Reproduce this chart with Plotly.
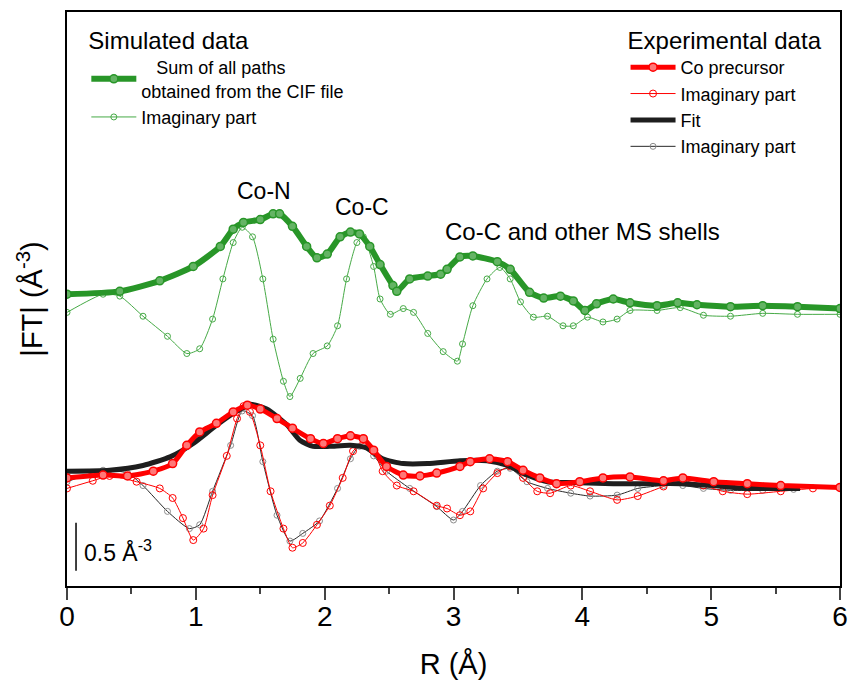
import plotly.graph_objects as go

# ---------------- data (R in Å, |FT| in Å^-3, offset stacked) ----------------
R_sim = [0.00, 0.41, 0.72, 0.98, 1.19, 1.29, 1.37, 1.50, 1.60, 1.65, 1.75, 1.86, 1.94, 2.02,
         2.12, 2.20, 2.27, 2.35, 2.43, 2.53, 2.56, 2.66, 2.80, 2.90, 2.95, 3.05, 3.15, 3.34,
         3.44, 3.59, 3.70, 3.83, 3.93, 4.02, 4.11, 4.24, 4.37, 4.58, 4.74, 4.89, 5.15, 5.40,
         5.67, 6.00]
sim_mag = [3.05, 3.08, 3.19, 3.34, 3.55, 3.73, 3.80, 3.83, 3.89, 3.89, 3.76, 3.55, 3.43, 3.47,
           3.65, 3.70, 3.68, 3.55, 3.36, 3.14, 3.08, 3.21, 3.24, 3.26, 3.31, 3.44, 3.45, 3.39,
           3.31, 3.07, 3.01, 3.03, 2.98, 2.88, 2.95, 3.00, 2.96, 2.93, 2.96, 2.94, 2.92, 2.93,
           2.92, 2.90]

R_sim_im = [0.00, 0.28, 0.41, 0.59, 0.78, 0.93, 1.03, 1.13, 1.21, 1.29, 1.36, 1.44, 1.52, 1.60,
            1.68, 1.73, 1.81, 1.91, 2.02, 2.10, 2.17, 2.25, 2.30, 2.38, 2.43, 2.51, 2.61, 2.69,
            2.80, 2.92, 3.03, 3.07, 3.15, 3.26, 3.36, 3.44, 3.52, 3.62, 3.73, 3.85, 3.93, 4.04,
            4.16, 4.27, 4.37, 4.58, 4.76, 4.94, 5.15, 5.40, 5.67, 6.00]
sim_im = [2.86, 3.05, 3.03, 2.82, 2.61, 2.43, 2.48, 2.79, 3.21, 3.59, 3.75, 3.65, 3.21, 2.58,
          2.14, 1.98, 2.17, 2.43, 2.51, 2.72, 3.21, 3.59, 3.65, 3.34, 3.00, 2.84, 2.90, 2.86,
          2.64, 2.45, 2.35, 2.53, 2.93, 3.21, 3.33, 3.21, 2.97, 2.81, 2.82, 2.72, 2.72, 2.81,
          2.76, 2.79, 2.88, 2.88, 2.91, 2.83, 2.82, 2.85, 2.84, 2.84]

R_exp = [0.00, 0.28, 0.47, 0.67, 0.82, 0.93, 1.03, 1.16, 1.29, 1.40, 1.50, 1.63, 1.75, 1.89,
         1.99, 2.10, 2.20, 2.30, 2.38, 2.48, 2.61, 2.74, 2.87, 3.05, 3.13, 3.28, 3.42, 3.54,
         3.67, 3.80, 3.98, 4.16, 4.37, 4.63, 4.78, 5.02, 5.28, 5.54, 6.00]
exp_mag = [1.13, 1.16, 1.15, 1.20, 1.28, 1.47, 1.61, 1.70, 1.82, 1.89, 1.85, 1.75, 1.65, 1.54,
           1.49, 1.54, 1.57, 1.54, 1.42, 1.25, 1.16, 1.15, 1.18, 1.25, 1.30, 1.33, 1.30, 1.21,
           1.13, 1.07, 1.09, 1.13, 1.14, 1.10, 1.13, 1.09, 1.07, 1.05, 1.03]

R_exp_im = [0.00, 0.20, 0.33, 0.54, 0.72, 0.82, 0.90, 0.98, 1.06, 1.13, 1.24, 1.32, 1.37, 1.42,
            1.50, 1.58, 1.68, 1.75, 1.83, 1.94, 2.04, 2.14, 2.22, 2.30, 2.38, 2.45, 2.56, 2.69,
            2.87, 2.95, 3.05, 3.13, 3.23, 3.34, 3.44, 3.54, 3.65, 3.75, 3.91, 4.06, 4.27, 4.43,
            4.63, 4.78, 4.94, 5.09, 5.28, 5.54, 5.79, 6.00]
exp_im = [1.02, 1.10, 1.15, 1.09, 1.02, 0.92, 0.71, 0.48, 0.60, 0.95, 1.36, 1.75, 1.88, 1.82,
          1.47, 0.99, 0.60, 0.40, 0.45, 0.64, 0.84, 1.13, 1.41, 1.49, 1.41, 1.20, 1.05, 0.99,
          0.84, 0.81, 0.74, 0.78, 1.02, 1.18, 1.25, 1.13, 0.99, 0.97, 1.05, 0.99, 0.90, 0.94,
          1.04, 1.10, 1.05, 0.99, 0.96, 0.99, 1.02, 1.03]

R_fit = [0.00, 0.33, 0.59, 0.80, 0.98, 1.16, 1.32, 1.42, 1.55, 1.71, 1.81, 1.91, 2.04, 2.20,
         2.33, 2.45, 2.61, 2.80, 3.05, 3.26, 3.42, 3.57, 3.73, 3.98, 4.24, 4.50, 4.76, 5.02,
         5.28, 5.54, 5.69]
fit_mag = [1.20, 1.21, 1.26, 1.35, 1.49, 1.68, 1.83, 1.90, 1.85, 1.68, 1.52, 1.46, 1.46, 1.47,
           1.44, 1.33, 1.28, 1.28, 1.31, 1.31, 1.26, 1.16, 1.09, 1.08, 1.07, 1.07, 1.07, 1.05,
           1.02, 1.02, 1.02]

R_fit_im = [0.00, 0.28, 0.47, 0.59, 0.78, 0.95, 1.03, 1.13, 1.27, 1.36, 1.44, 1.52, 1.63, 1.73,
            1.83, 1.96, 2.10, 2.20, 2.27, 2.38, 2.48, 2.66, 2.87, 3.00, 3.07, 3.21, 3.34, 3.44,
            3.57, 3.73, 3.91, 4.06, 4.27, 4.43, 4.63, 4.78, 4.94, 5.15, 5.40, 5.64]
fit_im = [1.09, 1.21, 1.18, 1.05, 0.78, 0.60, 0.64, 0.99, 1.47, 1.83, 1.78, 1.30, 0.74, 0.47,
          0.55, 0.68, 1.02, 1.33, 1.46, 1.36, 1.20, 1.02, 0.83, 0.69, 0.78, 1.05, 1.20, 1.23,
          1.09, 1.02, 0.97, 0.94, 0.95, 1.02, 1.05, 1.05, 1.02, 1.00, 1.00, 1.01]

x_ticks = [0, 1, 2, 3, 4, 5, 6]

FONT = "Liberation Sans, Arial, sans-serif"
GREEN = "rgb(40,150,40)"
GREEN_L = "rgb(70,170,70)"
RED = "rgb(255,0,0)"

fig = go.Figure()

fig.add_trace(go.Scatter(
    x=R_sim_im, y=sim_im, mode="lines+markers", name="Imaginary part",
    line=dict(color=GREEN_L, width=1, shape="spline", smoothing=0.6),
    marker=dict(symbol="circle-open", size=6, color=GREEN_L, line=dict(width=1)),
    legend="legend", legendrank=2))
fig.add_trace(go.Scatter(
    x=R_sim, y=sim_mag, mode="lines+markers",
    name="\u00a0\u00a0\u00a0Sum of all paths<br>obtained from the CIF file",
    line=dict(color=GREEN, width=6, shape="spline", smoothing=0.6),
    marker=dict(symbol="circle", size=8, color="rgb(100,180,100)", line=dict(color=GREEN, width=1.5)),
    legend="legend", legendrank=1))

fig.add_trace(go.Scatter(
    x=R_fit_im, y=fit_im, mode="lines+markers", name="Imaginary part",
    line=dict(color="rgb(40,40,40)", width=1, shape="spline", smoothing=0.6),
    marker=dict(symbol="circle-open", size=6, color="rgb(140,140,140)", line=dict(width=1)),
    legend="legend2", legendrank=4))
fig.add_trace(go.Scatter(
    x=R_exp_im, y=exp_im, mode="lines+markers", name="Imaginary part",
    line=dict(color=RED, width=1, shape="spline", smoothing=0.6),
    marker=dict(symbol="circle-open", size=7, color=RED, line=dict(width=1)),
    legend="legend2", legendrank=2))
fig.add_trace(go.Scatter(
    x=R_fit, y=fit_mag, mode="lines", name="Fit",
    line=dict(color="rgb(30,30,30)", width=5, shape="spline", smoothing=0.6),
    legend="legend2", legendrank=3))
fig.add_trace(go.Scatter(
    x=R_exp, y=exp_mag, mode="lines+markers", name="Co precursor",
    line=dict(color=RED, width=5, shape="spline", smoothing=0.6),
    marker=dict(symbol="circle", size=8, color="rgb(255,120,120)", line=dict(color=RED, width=1.5)),
    legend="legend2", legendrank=1))

# scale bar
fig.add_shape(type="line", xref="x", yref="y", x0=0.07, x1=0.07, y0=0.16, y1=0.66,
              line=dict(color="black", width=1.5))
fig.add_annotation(x=0.12, y=0.37, xref="x", yref="y", text="0.5 Å<sup>-3</sup>",
                   showarrow=False, xanchor="left", yanchor="middle",
                   font=dict(family=FONT, size=23, color="black"))

# peak labels
for txt, xx, yy, anc, fs in [("Co-N", 1.53, 4.125, "center", 23), ("Co-C", 2.29, 3.96, "center", 23),
                             ("Co-C and other MS shells", 2.92, 3.71, "left", 24)]:
    fig.add_annotation(x=xx, y=yy, xref="x", yref="y", text=txt, showarrow=False,
                       xanchor=anc, yanchor="middle",
                       font=dict(family=FONT, size=fs, color="black"))

fig.update_layout(
    width=850, height=682,
    margin=dict(l=67, r=10, t=12, b=96, autoexpand=False),
    paper_bgcolor="white", plot_bgcolor="white",
    font=dict(family=FONT, color="black"),
    legend=dict(title=dict(text="Simulated data", font=dict(size=24, family=FONT)),
                x=0.025, y=0.99, xanchor="left", yanchor="top",
                bgcolor="rgba(0,0,0,0)", font=dict(size=18, family=FONT),
                itemwidth=45, tracegroupgap=0),
    legend2=dict(title=dict(text="Experimental data", font=dict(size=24, family=FONT)),
                 x=0.98, y=0.99, xanchor="right", yanchor="top",
                 bgcolor="rgba(0,0,0,0)", font=dict(size=18, family=FONT),
                 itemwidth=45, tracegroupgap=0),
    xaxis=dict(range=[0, 6], tickvals=x_ticks, ticks="outside", ticklen=12, tickwidth=1.5,
               minor=dict(dtick=0.5, ticks="outside", ticklen=6, tickwidth=1.5),
               showline=True, linewidth=1.5, linecolor="black", mirror=True,
               showgrid=False, zeroline=False, automargin=False, ticklabelstandoff=-7,
               tickfont=dict(family=FONT, size=28),
               title=dict(text="R (Å)", font=dict(family=FONT, size=29), standoff=22)),
    yaxis=dict(range=[0, 6], showticklabels=False, ticks="",
               showline=True, linewidth=1.5, linecolor="black", mirror=True,
               showgrid=False, zeroline=False, automargin=False,
               title=dict(text="|FT| (Å<sup>-3</sup>)", font=dict(family=FONT, size=29), standoff=14)),
)

fig.write_html("out.html")
